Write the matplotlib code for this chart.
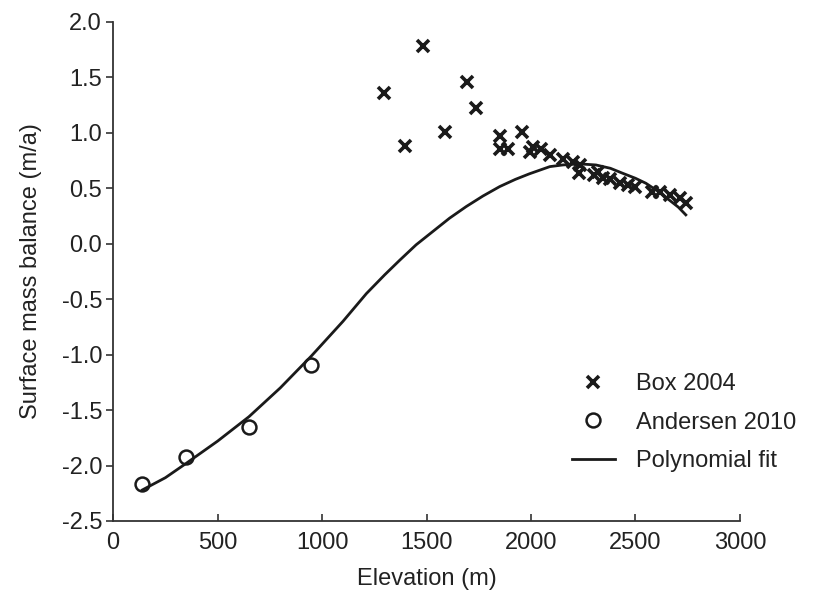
import matplotlib.pyplot as plt

plt.rcParams['font.family'] = ['Liberation Sans', 'DejaVu Sans']

# Box 2004 (x markers)
box_elev = [1297, 1397, 1481, 1587, 1695, 1735, 1852, 1852, 1892, 1955, 1995, 2010,
            2050, 2091, 2151, 2199, 2234, 2231, 2300, 2322, 2345, 2378, 2426, 2464,
            2498, 2577, 2617, 2665, 2713, 2744]
box_smb = [1.36, 0.885, 1.78, 1.01, 1.46, 1.22, 0.97, 0.85, 0.85, 1.005, 0.83, 0.87,
           0.85, 0.80, 0.76, 0.74, 0.71, 0.64, 0.62, 0.65, 0.59, 0.58, 0.55, 0.53,
           0.51, 0.47, 0.47, 0.44, 0.41, 0.37]

# Andersen 2010 (open circles)
and_elev = [137, 349, 648, 947]
and_smb = [-2.166, -1.925, -1.649, -1.093]

# Polynomial fit curve
fit_elev = [140, 250, 350, 500, 650, 800, 950, 1100, 1212, 1300, 1371, 1450, 1530,
            1610, 1690, 1770, 1850, 1925, 1992, 2090, 2152, 2230, 2311, 2380, 2439,
            2500, 2550, 2610, 2661, 2705, 2741]
fit_smb = [-2.22, -2.11, -1.98, -1.78, -1.56, -1.30, -1.01, -0.70, -0.45, -0.28,
           -0.15, -0.01, 0.11, 0.23, 0.335, 0.43, 0.515, 0.58, 0.63, 0.695, 0.71,
           0.72, 0.71, 0.68, 0.635, 0.59, 0.545, 0.47, 0.395, 0.33, 0.26]

ink = '#1a1a1a'
fs = 17

fig = plt.figure(figsize=(8.14, 5.92), dpi=100)
ax = fig.add_axes([0.139, 0.12, 0.77, 0.843])

ax.plot(box_elev, box_smb, linestyle='none', marker='x', markersize=8,
        markeredgewidth=2.6, color=ink, label='Box 2004')
ax.plot(and_elev, and_smb, linestyle='none', marker='o', markersize=10,
        markeredgewidth=1.8, markerfacecolor='white', markeredgecolor=ink,
        label='Andersen 2010')
ax.plot(fit_elev, fit_smb, color=ink, linewidth=2, label='Polynomial fit')

ax.set_xlim(0, 3000)
ax.set_ylim(-2.5, 2.0)
ax.set_xticks(range(0, 3001, 500))
ax.set_yticks([-2.5, -2.0, -1.5, -1.0, -0.5, 0.0, 0.5, 1.0, 1.5, 2.0])
ax.set_yticklabels([f'{v:.1f}' for v in ax.get_yticks()])

for side in ['top', 'right']:
    ax.spines[side].set_visible(False)
for side in ['left', 'bottom']:
    ax.spines[side].set_linewidth(1.3)
    ax.spines[side].set_color('#333333')

ax.tick_params(axis='y', direction='out', length=5, width=1.2, labelsize=fs,
               colors='#333333', labelcolor='#222222', pad=3)
ax.tick_params(axis='x', direction='in', length=5, width=1.2, labelsize=fs,
               colors='#333333', labelcolor='#222222', pad=8)

ax.set_xlabel('Elevation (m)', fontsize=fs, color='#222222', labelpad=10)
ax.set_ylabel('Surface mass balance (m/a)', fontsize=fs, color='#222222', labelpad=14)

ax.legend(loc='upper left', bbox_to_anchor=(572 / 814, 1 - 373 / 592),
          bbox_transform=fig.transFigure, frameon=False, fontsize=fs,
          borderpad=0, borderaxespad=0, labelspacing=0.7, handlelength=1.8,
          handletextpad=0.9, labelcolor='#222222')

fig.savefig('out.png', dpi=100)
